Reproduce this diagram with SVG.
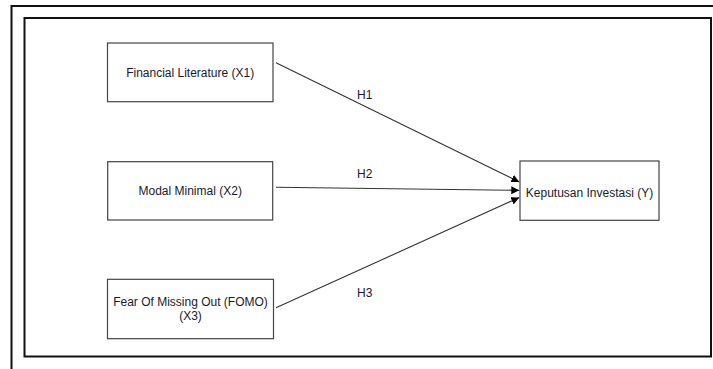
<svg xmlns="http://www.w3.org/2000/svg" width="713" height="369" viewBox="0 0 713 369">
<style>
.frame{fill:none;stroke:#111;stroke-width:2}
.box{fill:#fff;stroke:#444;stroke-width:1.2}
.lbl{font-family:"Liberation Sans",Arial,sans-serif;font-size:12px;fill:#1a1a2a;text-anchor:middle}
.edge{fill:none;stroke:#333;stroke-width:1.1;marker-end:url(#ah)}
</style>
<defs>
<marker id="ah" viewBox="0 0 10 10" refX="10" refY="5" markerWidth="8" markerHeight="8" markerUnits="userSpaceOnUse" orient="auto">
<path d="M0,0 L10,5 L0,10 z" fill="#000"/>
</marker>
</defs>
<rect width="713" height="369" fill="#fff"/>
<g id="frame">
<path class="frame" d="M11.5,369 V6 H713"/>
<rect class="frame" x="24.5" y="18" width="686.5" height="338.5"/>
</g>
<g id="connectors">
<line class="edge" x1="276" y1="62.7" x2="519.3" y2="182"/>
<line class="edge" x1="276" y1="187.3" x2="519.3" y2="190.3"/>
<line class="edge" x1="276" y1="307.7" x2="519.3" y2="197.5"/>
<text class="lbl" x="364.7" y="99">H1</text>
<text class="lbl" x="364.7" y="177.5">H2</text>
<text class="lbl" x="364.7" y="296.5">H3</text>
</g>
<g id="x1">
<rect class="box" x="107.5" y="43" width="165.5" height="58.7"/>
<text class="lbl" x="190.2" y="77">Financial Literature (X1)</text>
</g>
<g id="x2">
<rect class="box" x="107.7" y="161.7" width="165" height="58.3"/>
<text class="lbl" x="190.2" y="194.5">Modal Minimal (X2)</text>
</g>
<g id="x3">
<rect class="box" x="107.5" y="279.3" width="166" height="59.4"/>
<text class="lbl" x="190.5" y="305.5">Fear Of Missing Out (FOMO)</text>
<text class="lbl" x="190.5" y="320.3">(X3)</text>
</g>
<g id="y">
<rect class="box" x="520" y="161" width="139" height="59.3"/>
<text class="lbl" x="589.5" y="196.7">Keputusan Investasi (Y)</text>
</g>
</svg>
